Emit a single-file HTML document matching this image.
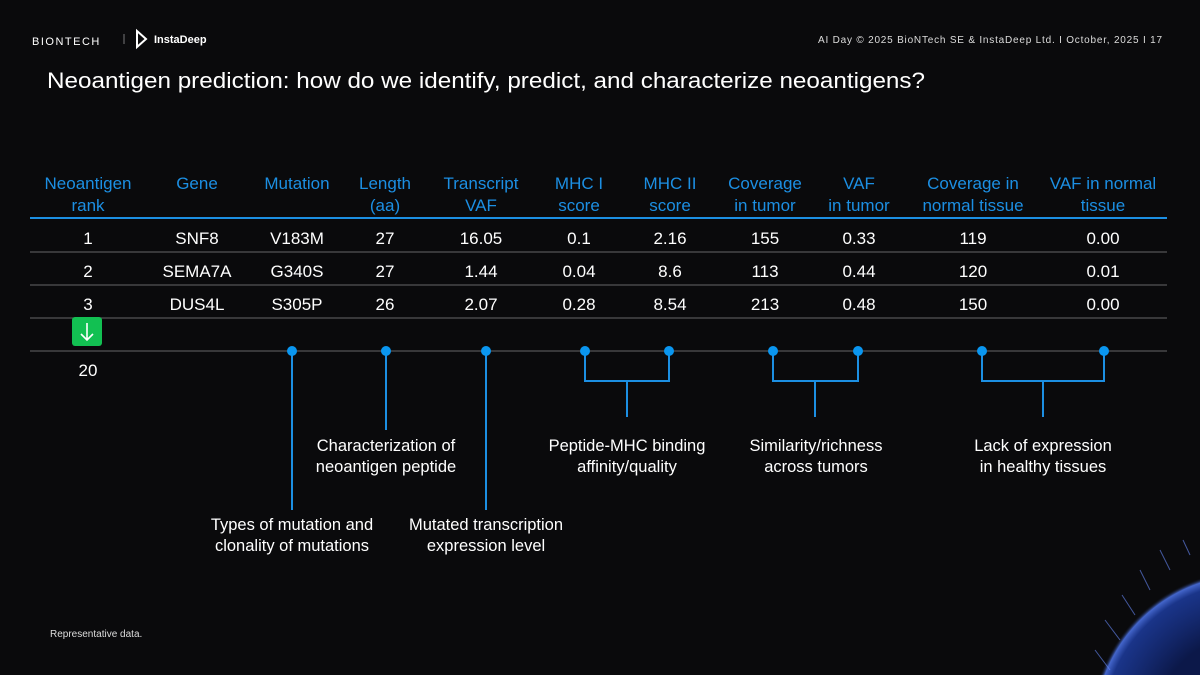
<!DOCTYPE html>
<html><head><meta charset="utf-8"><style>
html,body{margin:0;padding:0;background:#0a0a0c;width:1200px;height:675px;overflow:hidden;}
svg{display:block;}
text{font-family:"Liberation Sans",sans-serif;}
</style></head><body>
<svg width="1200" height="675" viewBox="0 0 1200 675" xmlns="http://www.w3.org/2000/svg">
<defs>
<radialGradient id="g" cx="1250" cy="730" r="160" gradientUnits="userSpaceOnUse">
<stop offset="0.6" stop-color="#0c1a50" stop-opacity="0.9"/>
<stop offset="0.92" stop-color="#1e3fa8" stop-opacity="0.8"/>
<stop offset="0.97" stop-color="#4a70e0" stop-opacity="0.9"/>
<stop offset="1" stop-color="#0a0a0c" stop-opacity="0"/>
</radialGradient>
</defs>
<rect width="1200" height="675" fill="#0a0a0c"/>
<circle cx="1250" cy="730" r="160" fill="url(#g)"/>
<g stroke="#6a8cff" stroke-width="1" opacity="0.6">
<line x1="1110" y1="670" x2="1095" y2="650"/><line x1="1120" y1="640" x2="1105" y2="620"/>
<line x1="1135" y1="615" x2="1122" y2="595"/><line x1="1150" y1="590" x2="1140" y2="570"/>
<line x1="1170" y1="570" x2="1160" y2="550"/><line x1="1190" y1="555" x2="1183" y2="540"/>
</g>
<!-- header -->
<text x="32" y="45" fill="#fff" font-size="11" letter-spacing="1.5">BIONTECH</text>
<line x1="124" y1="34" x2="124" y2="44" stroke="#777"/>
<polygon points="137,31 146,39 137,47" fill="none" stroke="#fff" stroke-width="2"/>
<text x="154" y="43" fill="#fff" font-size="11" font-weight="bold">InstaDeep</text>
<text x="1162" y="43" fill="#ddd" font-size="10" text-anchor="end" textLength="344" lengthAdjust="spacing">AI Day © 2025  BioNTech SE &amp; InstaDeep Ltd.   I   October, 2025   I    17</text>
<text x="47" y="88" fill="#fff" font-size="22" textLength="878" lengthAdjust="spacingAndGlyphs">Neoantigen prediction: how do we identify, predict, and characterize neoantigens?</text>
<!-- table header -->
<g fill="#1c8fe3" font-size="17" text-anchor="middle">
<text x="88" y="189">Neoantigen</text><text x="88" y="211">rank</text>
<text x="197" y="189">Gene</text>
<text x="297" y="189">Mutation</text>
<text x="385" y="189">Length</text><text x="385" y="211">(aa)</text>
<text x="481" y="189">Transcript</text><text x="481" y="211">VAF</text>
<text x="579" y="189">MHC I</text><text x="579" y="211">score</text>
<text x="670" y="189">MHC II</text><text x="670" y="211">score</text>
<text x="765" y="189">Coverage</text><text x="765" y="211">in tumor</text>
<text x="859" y="189">VAF</text><text x="859" y="211">in tumor</text>
<text x="973" y="189">Coverage in</text><text x="973" y="211">normal tissue</text>
<text x="1103" y="189">VAF in normal</text><text x="1103" y="211">tissue</text>
</g>
<line x1="30" y1="218" x2="1167" y2="218" stroke="#1c8fe3" stroke-width="2"/>
<g stroke="#555" stroke-width="1.2">
<line x1="30" y1="252" x2="1167" y2="252"/>
<line x1="30" y1="285" x2="1167" y2="285"/>
<line x1="30" y1="318" x2="1167" y2="318"/>
<line x1="30" y1="351" x2="1167" y2="351"/>
</g>
<g fill="#fff" font-size="17" text-anchor="middle">
<text x="88" y="244">1</text><text x="197" y="244">SNF8</text><text x="297" y="244">V183M</text><text x="385" y="244">27</text><text x="481" y="244">16.05</text><text x="579" y="244">0.1</text><text x="670" y="244">2.16</text><text x="765" y="244">155</text><text x="859" y="244">0.33</text><text x="973" y="244">119</text><text x="1103" y="244">0.00</text>
<text x="88" y="277">2</text><text x="197" y="277">SEMA7A</text><text x="297" y="277">G340S</text><text x="385" y="277">27</text><text x="481" y="277">1.44</text><text x="579" y="277">0.04</text><text x="670" y="277">8.6</text><text x="765" y="277">113</text><text x="859" y="277">0.44</text><text x="973" y="277">120</text><text x="1103" y="277">0.01</text>
<text x="88" y="310">3</text><text x="197" y="310">DUS4L</text><text x="297" y="310">S305P</text><text x="385" y="310">26</text><text x="481" y="310">2.07</text><text x="579" y="310">0.28</text><text x="670" y="310">8.54</text><text x="765" y="310">213</text><text x="859" y="310">0.48</text><text x="973" y="310">150</text><text x="1103" y="310">0.00</text>
<text x="88" y="376">20</text>
</g>
<rect x="72" y="317" width="30" height="29" rx="3" fill="#12c052"/>
<path d="M87 323 V340 M81 334 L87 340 L93 334" stroke="#fff" stroke-width="1.6" fill="none"/>
<!-- connectors -->
<g stroke="#1c8fe3" stroke-width="2" fill="none">
<line x1="292" y1="351" x2="292" y2="510"/>
<line x1="386" y1="351" x2="386" y2="430"/>
<line x1="486" y1="351" x2="486" y2="510"/>
<path d="M585 351 V381 H669 V351 M627 381 V417"/>
<path d="M773 351 V381 H858 V351 M815 381 V417"/>
<path d="M982 351 V381 H1104 V351 M1043 381 V417"/>
</g>
<g fill="#0a96f0">
<circle cx="292" cy="351" r="5"/><circle cx="386" cy="351" r="5"/><circle cx="486" cy="351" r="5"/>
<circle cx="585" cy="351" r="5"/><circle cx="669" cy="351" r="5"/><circle cx="773" cy="351" r="5"/>
<circle cx="858" cy="351" r="5"/><circle cx="982" cy="351" r="5"/><circle cx="1104" cy="351" r="5"/>
</g>
<g fill="#fff" font-size="16.5" text-anchor="middle">
<text x="386" y="451">Characterization of</text><text x="386" y="472">neoantigen peptide</text>
<text x="627" y="451">Peptide-MHC binding</text><text x="627" y="472">affinity/quality</text>
<text x="816" y="451">Similarity/richness</text><text x="816" y="472">across tumors</text>
<text x="1043" y="451">Lack of expression</text><text x="1043" y="472">in healthy tissues</text>
<text x="292" y="530">Types of mutation and</text><text x="292" y="551">clonality of mutations</text>
<text x="486" y="530">Mutated transcription</text><text x="486" y="551">expression level</text>
</g>
<text x="50" y="637" fill="#ddd" font-size="10">Representative data.</text>
</svg>
</body></html>
